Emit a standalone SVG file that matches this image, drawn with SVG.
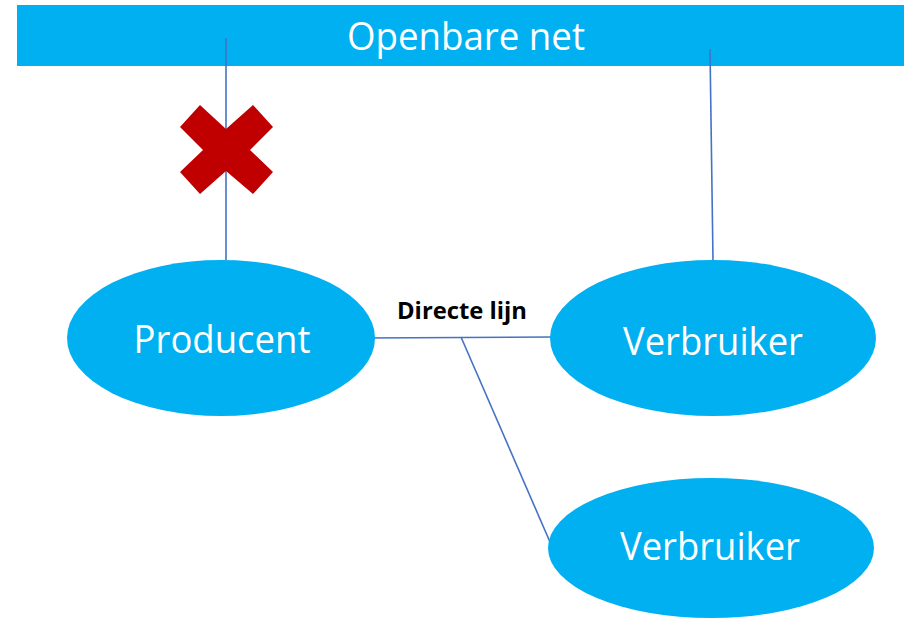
<svg xmlns="http://www.w3.org/2000/svg" width="904" height="618" viewBox="0 0 904 618">
<style>
.shape{fill:#00B0F0}
.lbl{font-family:"Open Sans","Liberation Sans",sans-serif;font-size:38px;fill:#FFFFFF;text-anchor:middle}
.conn{stroke:#4472C4;stroke-width:1.6;fill:none}
</style>
<rect width="904" height="618" fill="#FFFFFF"/>
<g id="openbare-net">
<rect class="shape" x="17" y="5" width="887" height="61"/>
<text class="lbl" x="466" y="50" textLength="238" lengthAdjust="spacingAndGlyphs">Openbare net</text>
</g>
<g id="connectors">
<line class="conn" x1="226" y1="38" x2="226" y2="260"/>
<line class="conn" x1="710" y1="49" x2="713" y2="260"/>
<line class="conn" x1="365" y1="338" x2="551" y2="337"/>
<line class="conn" x1="461" y1="337" x2="550" y2="542"/>
</g>
<g id="blocked">
<polygon fill="#C00000" points="200,105 226,129 253,105 273,127 250,150 273,172 253,194 226,171 200,194 180,172 203,150 180,127"/>
</g>
<g id="producent">
<ellipse class="shape" cx="221" cy="338" rx="154" ry="78"/>
<text class="lbl" x="222" y="353" textLength="177" lengthAdjust="spacingAndGlyphs">Producent</text>
</g>
<g id="verbruiker1">
<ellipse class="shape" cx="713" cy="338" rx="163" ry="78"/>
<text class="lbl" x="713" y="355" textLength="180" lengthAdjust="spacingAndGlyphs">Verbruiker</text>
</g>
<g id="verbruiker2">
<ellipse class="shape" cx="711" cy="548" rx="163" ry="70"/>
<text class="lbl" x="710" y="560" textLength="180" lengthAdjust="spacingAndGlyphs">Verbruiker</text>
</g>
<g id="directe-lijn-label">
<text x="462" y="319" font-family="'Open Sans','Liberation Sans',sans-serif" font-size="23" font-weight="bold" fill="#000000" text-anchor="middle" textLength="130" lengthAdjust="spacingAndGlyphs">Directe lijn</text>
</g>
</svg>
